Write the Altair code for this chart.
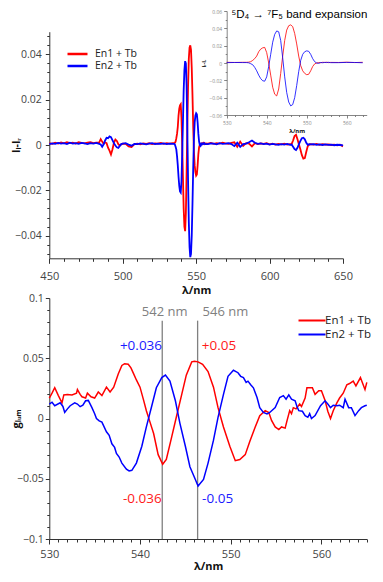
import altair as alt
import numpy as np
import pandas as pd

SERIES = ["En1 + Tb", "En2 + Tb"]
COLORS = ["#ff0000", "#0000ff"]
INSET_TITLE = "⁵D₄ → ⁷F₅ band expansion"

# ---------------- top panel (I_L - I_R, 450-650 nm) ----------------
top_lam = (list(range(450, 485, 2)) + list(range(485, 501)) + list(range(502, 535, 2))
           + [535 + 0.5 * i for i in range(43)] + list(range(558, 615, 2))
           + list(range(615, 629)) + list(range(630, 651, 2)))

top_en1 = (
    [0.0008, 0.0005, 0.0010, 0.0006, 0.0011, 0.0007, 0.0012, 0.0008, 0.0010, 0.0006,
     0.0012, 0.0009, 0.0007, 0.0011, 0.0013, 0.0008, 0.0010, 0.0012]
    + [0.0026, 0.0015, 0.0005, 0.0012, 0.0008, -0.0012, -0.0025, -0.0042, -0.0020, 0.0010,
       0.0024, 0.0018, 0.0004, -0.0002, 0.0003, 0.0006]
    + [0.0005, -0.0006, -0.0009, 0.0004, 0.0006, 0.0003, 0.0007, 0.0005, 0.0008, 0.0004,
       0.0007, 0.0006, 0.0009, 0.0005, 0.0008, 0.0006, 0.0008]
    + [0.0008, 0.001, 0.0015, 0.003, 0.005, 0.008, 0.013, 0.016, 0.0175, 0.018,
       0.012, 0.0, -0.014, -0.028, -0.036, -0.038, -0.030, -0.012, 0.008, 0.026,
       0.038, 0.043, 0.044, 0.042, 0.034, 0.022, 0.008, -0.003, -0.009, -0.012,
       -0.0135, -0.013, -0.009, -0.004, -0.001, 0.0, 0.0005, 0.0003, 0.0008, 0.0006,
       0.0009, 0.0004, 0.0007]
    + [0.0006, 0.0009, 0.0005, 0.0008, 0.0006, 0.0010, 0.0007, 0.0005, 0.0009, 0.0012,
       -0.0008, 0.0015, -0.0004, 0.0008, 0.0006, -0.0006, 0.0008, 0.0004, 0.0007, 0.0005,
       0.0008, 0.0003, 0.0006, 0.0002, 0.0005, 0.0003, 0.0006, 0.0002, 0.0004]
    + [0.0004, 0.0020, 0.0040, 0.0045, 0.0025, 0.0002, -0.0020, -0.0045, -0.0060, -0.0058,
       -0.0030, -0.0005, 0.0002, 0.0004]
    + [0.0002, 0.0005, 0.0001, 0.0004, 0.0002, 0.0003, 0.0000, 0.0002, -0.0001, 0.0001, -0.0006]
)

top_en2 = (
    [0.0004, 0.0007, 0.0005, 0.0009, 0.0006, 0.0008, 0.0004, 0.0010, 0.0006, 0.0008,
     0.0005, 0.0009, 0.0007, 0.0004, 0.0008, 0.0006, 0.0009, 0.0005]
    + [0.0002, -0.0008, 0.0003, 0.0020, 0.0032, 0.0030, 0.0038, 0.0035, 0.0022, 0.0008,
       -0.0002, -0.0010, -0.0013, -0.0004, 0.0004, 0.0006]
    + [0.0008, 0.0002, -0.0003, 0.0005, 0.0004, 0.0007, 0.0005, 0.0003, 0.0006, 0.0008,
       0.0004, 0.0006, 0.0005, 0.0007, 0.0004, 0.0006, 0.0005]
    + [0.0005, 0.0002, -0.0008, -0.002, -0.005, -0.009, -0.014, -0.018, -0.0205, -0.021,
       -0.016, -0.004, 0.010, 0.024, 0.033, 0.037, 0.036, 0.026, 0.006, -0.016,
       -0.034, -0.045, -0.0495, -0.048, -0.040, -0.026, -0.010, 0.003, 0.010, 0.013,
       0.014, 0.0135, 0.010, 0.005, 0.0015, 0.0, -0.0004, 0.0006, 0.0003, 0.0007,
       0.0005, 0.0008, 0.0004]
    + [0.0004, 0.0007, 0.0006, 0.0003, 0.0008, 0.0005, 0.0006, 0.0008, 0.0004, -0.0005,
       0.0010, -0.0008, 0.0004, 0.0006, 0.0012, 0.0020, 0.0010, 0.0005, 0.0007, 0.0004,
       0.0006, 0.0002, 0.0005, 0.0003, 0.0001, 0.0004, 0.0002, 0.0005, 0.0001]
    + [0.0002, -0.0008, -0.0018, -0.0022, -0.0012, 0.0004, 0.0018, 0.0030, 0.0032, 0.0025,
       0.0010, 0.0001, 0.0004, 0.0003]
    + [0.0004, 0.0001, 0.0003, 0.0000, 0.0003, 0.0001, 0.0002, -0.0001, 0.0001, 0.0000, -0.0002]
)

# ---------------- bottom panel (g_lum, 530-565 nm) ----------------
bot_lam_en1 = [530.0, 530.3, 530.6, 531.0, 531.4, 531.6, 532.0, 532.5, 533.0, 533.1,
               533.4, 533.6, 534.0, 534.2, 534.6, 535.0, 535.4, 535.8, 536.3, 536.7,
               537.1, 537.6, 538.0, 538.3, 538.7, 539.0, 539.3, 539.6, 540.0, 540.4,
               540.7, 541.1, 541.5, 542.0, 542.5, 542.9, 543.5, 544.0, 544.6, 545.1,
               545.7, 546.0, 546.4, 546.9, 547.5, 548.1, 548.6, 549.2, 549.9, 550.5,
               551.0, 551.6, 552.1, 552.7, 553.2, 553.8, 554.2, 554.5, 554.9, 555.3,
               555.6, 556.0, 556.2, 556.5, 556.7, 556.9, 557.2, 557.6, 557.8, 558.2,
               558.4, 559.0, 559.3, 559.7, 560.0, 560.4, 560.7, 561.0, 561.3, 561.7,
               562.0, 562.4, 562.8, 563.1, 563.5, 563.8, 564.3, 564.6, 564.8, 565.0]
bot_en1 = [0.017, 0.021, 0.0255, 0.019, 0.013, 0.0196, 0.020, 0.0196, 0.021, 0.024,
           0.020, 0.018, 0.017, 0.021, 0.018, 0.017, 0.022, 0.019, 0.026, 0.022,
           0.026, 0.037, 0.044, 0.0455, 0.045, 0.042, 0.037, 0.032, 0.026, 0.015,
           0.0065, -0.003, -0.0125, -0.030, -0.038, -0.034, -0.015, 0.001, 0.020, 0.036,
           0.047, 0.0475, 0.047, 0.045, 0.039, 0.026, 0.009, -0.007, -0.023, -0.035,
           -0.034, -0.030, -0.019, -0.007, 0.0024, 0.0065, 0.005, -0.0016, -0.007, -0.0092,
           -0.007, -0.008, -0.002, 0.0065, 0.004, 0.009, 0.008, 0.012, 0.010, 0.017,
           0.0255, 0.0255, 0.020, 0.023, 0.023, 0.015, 0.006, 0.0, 0.0065, 0.013,
           0.017, 0.021, 0.028, 0.029, 0.031, 0.027, 0.034, 0.028, 0.024, 0.030]

bot_lam_en2 = [530.0, 530.3, 530.6, 531.2, 531.5, 531.7, 532.0, 532.3, 532.8, 533.1,
               533.4, 533.7, 534.0, 534.3, 534.7, 535.0, 535.2, 535.5, 535.8, 536.3,
               536.6, 536.9, 537.2, 537.4, 537.7, 538.0, 538.5, 538.8, 539.1, 539.6,
               540.2, 540.7, 541.3, 541.8, 542.4, 542.8, 543.3, 543.9, 544.4, 545.0,
               545.5, 546.1, 546.4, 547.0, 547.5, 548.1, 548.6, 549.2, 549.7, 550.3,
               550.8, 551.1, 551.4, 551.7, 551.9, 552.2, 552.5, 552.9, 553.2, 553.6,
               554.0, 554.3, 554.9, 555.4, 555.8, 556.1, 556.4, 556.7, 557.1, 557.3,
               557.5, 557.9, 558.2, 558.5, 558.7, 558.9, 559.3, 559.9, 560.4, 560.7,
               561.0, 561.3, 561.7, 562.0, 562.4, 562.6, 563.0, 563.3, 563.7, 564.1,
               564.4, 564.8, 565.0]
bot_en2 = [0.012, 0.0135, 0.0106, 0.013, 0.010, 0.005, 0.008, 0.0106, 0.013, 0.012,
           0.0098, 0.011, 0.0147, 0.015, 0.009, 0.004, 0.0, -0.002, -0.003, -0.011,
           -0.014, -0.021, -0.024, -0.029, -0.032, -0.037, -0.042, -0.0435, -0.043, -0.037,
           -0.023, -0.007, 0.0106, 0.0255, 0.034, 0.036, 0.031, 0.0147, -0.004, -0.023,
           -0.040, -0.0506, -0.056, -0.0506, -0.037, -0.018, 0.001, 0.020, 0.035, 0.040,
           0.038, 0.035, 0.034, 0.030, 0.031, 0.028, 0.0255, 0.0174, 0.009, 0.005,
           0.0038, 0.005, 0.009, 0.0174, 0.019, 0.016, 0.0196, 0.016, 0.0147, 0.010,
           0.0065, 0.006, 0.0024, 0.001, 0.004, 0.0, 0.0024, 0.0106, 0.0147, 0.012,
           0.009, 0.011, 0.0106, 0.011, 0.009, 0.016, 0.009, 0.009, 0.0024, 0.0065,
           0.009, 0.0106, 0.011]

# marker lines and annotations (bottom panel)
rule_lam = [542.45, 546.35]
rule_top = [0.0812, 0.0812]
rule_bottom = [-0.1, -0.1]

nm_text = ["542 nm", "546 nm"]
nm_lam = [542.72, 546.9]
nm_g = [0.0887, 0.0887]
nm_align = ["center", "left"]

peak_text = ["+0.036", "-0.036", "+0.05", "-0.05"]
peak_lam = [542.43, 542.39, 546.8, 546.84]
peak_g = [0.060, -0.067, 0.060, -0.067]
peak_color = ["#1a1aff", "#ff1a1a", "#ff1a1a", "#1a1aff"]
peak_align = ["right", "right", "left", "left"]

# ---------------- tables ----------------
top_df = pd.DataFrame({
    "lam": top_lam + top_lam,
    "val": top_en1 + top_en2,
    "series": [SERIES[0]] * len(top_lam) + [SERIES[1]] * len(top_lam),
})
inset_df = top_df[(top_df["lam"] >= 530) & (top_df["lam"] <= 565)]
bot_df = pd.DataFrame({
    "lam": bot_lam_en1 + bot_lam_en2,
    "val": bot_en1 + bot_en2,
    "series": [SERIES[0]] * len(bot_lam_en1) + [SERIES[1]] * len(bot_lam_en2),
})
rule_df = pd.DataFrame({"lam": rule_lam, "y0": rule_bottom, "y1": rule_top})
nm_df = pd.DataFrame({"lam": nm_lam, "val": nm_g, "txt": nm_text, "al": nm_align})
peak_df = pd.DataFrame({"lam": peak_lam, "val": peak_g, "txt": peak_text,
                        "col": peak_color, "al": peak_align})
title_df = pd.DataFrame({"lam": [531.2], "val": [0.0555], "txt": [INSET_TITLE]})

W, H = 367, 566
FONT = "Open Sans"
AX = "#333333"
SWATCH = "M-2,0L2,0"


def make_axis(orient, offset, values, major_test, label_expr, tmaj, tmin, title,
              lsize, lcolor, tsize, lpad, tpad, title_x=None, dwidth=1.0, dcolor=AX):
    kw = dict(orient=orient, offset=offset, values=values, labelExpr=label_expr,
              tickSize={"condition": {"test": major_test, "value": tmaj}, "value": tmin},
              title=title, grid=False, labelFlush=False, labelOverlap=False,
              labelFont=FONT, labelFontSize=lsize, labelColor=lcolor,
              labelPadding=lpad, titleFont=FONT, titleFontSize=tsize,
              titleFontWeight="bold", titleColor="#111111", titlePadding=tpad,
              domainColor=dcolor, tickColor=dcolor, domainWidth=dwidth, tickWidth=dwidth)
    if title_x is not None:
        kw["titleX"] = title_x
    return alt.Axis(**kw)


fmt = "format(datum.value, '~g')"
color_scale = alt.Scale(domain=SERIES, range=COLORS)

# ---------------- main top plot ----------------
m_x = alt.Scale(domain=[450, 650], range=[41.3, 335], nice=False, zero=False)
m_y = alt.Scale(domain=[-0.05, 0.05], range=[250.3, 23.7], nice=False, zero=False)
m_yticks = [float(v) for v in np.round(np.arange(-0.048, 0.0481, 0.004), 3)]

main = alt.Chart(top_df).mark_line(strokeWidth=1.8).encode(
    x=alt.X("lam:Q", scale=m_x,
            axis=make_axis("bottom", 250.3 - H, list(range(450, 651, 10)),
                           "datum.value % 50 == 0",
                           f"datum.value % 50 == 0 ? {fmt} : ''",
                           5, 3, "λ/nm", 11, "#444444", 11, 7, 3)),
    y=alt.Y("val:Q", scale=m_y,
            axis=make_axis("left", -41.3, m_yticks,
                           "abs(round(datum.value*1000)) % 20 == 0",
                           f"abs(round(datum.value*1000)) % 20 == 0 ? {fmt} : ''",
                           4, 2.5, "Iₗ-Iᵣ", 10.5, "#444444", 10.5, 4, 2, title_x=-28)),
    color=alt.Color("series:N", scale=color_scale,
                    legend=alt.Legend(orient="none", legendX=63, legendY=39.5, title=None,
                                      symbolType=SWATCH, symbolSize=100,
                                      symbolStrokeWidth=2.5, labelFont=FONT,
                                      labelFontSize=10.5, labelColor="#222222",
                                      rowPadding=-3, labelOffset=11, padding=0)),
)

# ---------------- inset ----------------
i_x = alt.Scale(domain=[530, 565], range=[218.7, 358.7], nice=False, zero=False)
i_y = alt.Scale(domain=[-0.06, 0.06], range=[107, 3], nice=False, zero=False)
i_yticks = [float(v) for v in np.round(np.arange(-0.06, 0.0601, 0.01), 3)]

inset_lines = alt.Chart(inset_df).mark_line(strokeWidth=1, opacity=0.8).encode(
    x=alt.X("lam:Q", scale=i_x,
            axis=make_axis("bottom", 107 - H, list(range(530, 566, 2)),
                           "datum.value % 10 == 0",
                           f"datum.value % 10 == 0 ? {fmt} : ''",
                           3, 1.5, "λ/nm", 5, "#888888", 6, 2, 2, dwidth=0.8,
                           dcolor="#666666")),
    y=alt.Y("val:Q", scale=i_y,
            axis=make_axis("left", -218.7, i_yticks,
                           "abs(round(datum.value*1000)) % 20 == 0",
                           f"abs(round(datum.value*1000)) % 20 == 0 ? {fmt} : ''",
                           3, 1.5, "Iₗ-Iᵣ", 5, "#888888", 5.5, 2, 2, dwidth=0.8,
                           dcolor="#666666")),
    color=alt.Color("series:N", scale=color_scale, legend=None),
)
inset_title = alt.Chart(title_df).mark_text(
    align="left", baseline="middle", font="Liberation Sans", fontSize=11.5, color="#000000"
).encode(
    x=alt.X("lam:Q", scale=i_x, axis=None),
    y=alt.Y("val:Q", scale=i_y, axis=None),
    text="txt:N",
)

# ---------------- bottom plot ----------------
b_x = alt.Scale(domain=[530, 565], range=[41.3, 358.8], nice=False, zero=False)
b_y = alt.Scale(domain=[-0.1, 0.1], range=[531, 290], nice=False, zero=False)
b_yticks = [float(v) for v in np.round(np.arange(-0.1, 0.1001, 0.01), 3)]

bot_lines = alt.Chart(bot_df).mark_line(strokeWidth=1.5).encode(
    x=alt.X("lam:Q", scale=b_x,
            axis=make_axis("bottom", 531 - H, list(range(530, 566)),
                           "datum.value % 10 == 0",
                           f"datum.value % 10 == 0 ? {fmt} : ''",
                           5, 3, "λ/nm", 11, "#444444", 11, 4, 1)),
    y=alt.Y("val:Q", scale=b_y,
            axis=make_axis("left", -41.3, b_yticks,
                           "abs(round(datum.value*100)) % 5 == 0",
                           f"abs(round(datum.value*100)) % 5 == 0 ? {fmt} : ''",
                           4, 2.5, "gₗᵤₘ", 10.5, "#444444", 11, 2, 2, title_x=-28)),
    color=alt.Color("series:N", scale=color_scale,
                    legend=alt.Legend(orient="none", legendX=296, legendY=304.5, title=None,
                                      symbolType=SWATCH, symbolSize=182,
                                      symbolStrokeWidth=2, labelFont=FONT,
                                      labelFontSize=11.5, labelColor="#222222",
                                      rowPadding=0, labelOffset=5, padding=0)),
)
bot_rules = alt.Chart(rule_df).mark_rule(color="#808080", strokeWidth=1.3).encode(
    x=alt.X("lam:Q", scale=b_x, axis=None),
    y=alt.Y("y0:Q", scale=b_y, axis=None),
    y2="y1:Q",
)


def text_layer(df, align, color=None):
    sub = df[df["al"] == align]
    enc = dict(
        x=alt.X("lam:Q", scale=b_x, axis=None),
        y=alt.Y("val:Q", scale=b_y, axis=None),
        text="txt:N",
    )
    if color is None:
        enc["color"] = alt.Color("col:N", scale=None)
        mk = alt.Chart(sub).mark_text(align=align, baseline="middle", font=FONT, fontSize=13.5)
    else:
        mk = alt.Chart(sub).mark_text(align=align, baseline="middle", font=FONT,
                                      fontSize=13, color=color)
    return mk.encode(**enc)


chart = alt.layer(
    main, inset_lines, inset_title,
    bot_rules, bot_lines,
    text_layer(nm_df, "center", "#808080"),
    text_layer(nm_df, "left", "#808080"),
    text_layer(peak_df, "right"),
    text_layer(peak_df, "left"),
).resolve_scale(
    x="independent", y="independent", color="independent"
).properties(
    width=W, height=H, padding=0, autosize=alt.AutoSizeParams(type="none")
).configure_view(stroke=None)

chart.save("out.html", embed_options={"renderer": "svg", "actions": False})
